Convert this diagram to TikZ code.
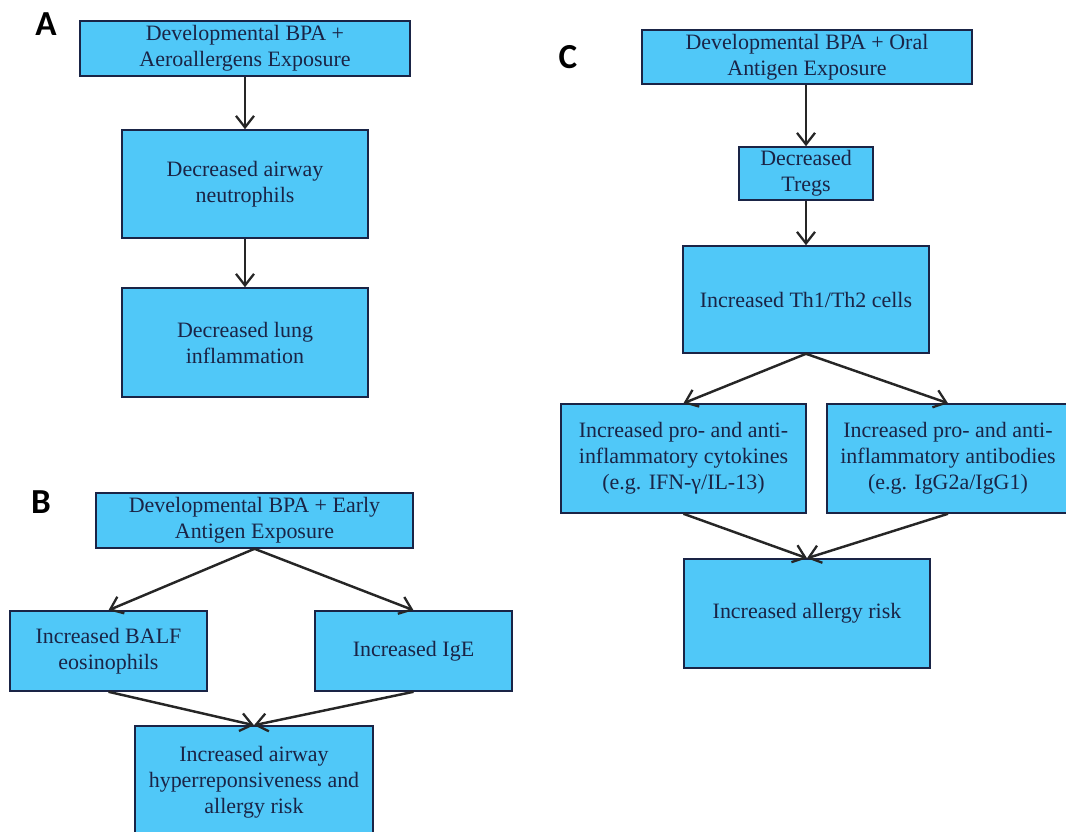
\documentclass[tikz,border=0pt]{standalone}
\usepackage{fontspec}
\setmainfont{Liberation Serif}
\newfontfamily\labelfont{Carlito}
\usetikzlibrary{arrows.meta}
\definecolor{boxblue}{RGB}{80,200,248}
\definecolor{navy1}{RGB}{26,36,70}

\begin{document}
\begin{tikzpicture}[x=0.02cm, y=-0.02cm,
  flowbox/.style={draw=navy1, fill=boxblue, line width=0.9pt, align=center, text=navy1, inner sep=2pt, font=\fontsize{12.5}{14.8}\selectfont},
  panel/.style={font=\labelfont\bfseries\fontsize{20}{20}\selectfont},
  flow/.style={-{Straight Barb[length=2.3mm,width=3.6mm,line width=1.3pt]}, line width=1.4pt, draw=black!85}]
\useasboundingbox (0,0) rectangle (1066,832);
% panel A
\node[panel] (labA) at (46,24) {A};
\node[flowbox, minimum width=6.6cm, minimum height=1.1cm] (Aexp) at (245,48.5) {Developmental BPA +\\Aeroallergens Exposure};
\node[flowbox, minimum width=4.92cm, minimum height=2.16cm] (Aneut) at (245,184) {Decreased airway\\neutrophils};
\node[flowbox, minimum width=4.92cm, minimum height=2.18cm] (Alung) at (245,342.5) {Decreased lung\\inflammation};
\draw[flow] (Aexp) -- (Aneut);
\draw[flow] (Aneut) -- (Alung);
% panel B
\node[panel] (labB) at (41,502) {B};
\node[flowbox, minimum width=6.34cm, minimum height=1.1cm] (Bexp) at (254.5,520.5) {Developmental BPA + Early\\Antigen Exposure};
\node[flowbox, minimum width=3.94cm, minimum height=1.6cm] (Beos) at (108.5,651) {Increased BALF\\eosinophils};
\node[flowbox, minimum width=3.94cm, minimum height=1.6cm] (BIgE) at (413.5,651) {Increased IgE};
\node[flowbox, minimum width=4.76cm, minimum height=2.24cm] (Bahr) at (254,782) {Increased airway\\hyperreponsiveness and\\allergy risk};
\draw[flow] (Bexp.south) -- (Beos.north);
\draw[flow] (Bexp.south) -- (BIgE.north);
\draw[flow] (Beos.south) -- (Bahr.north);
\draw[flow] (BIgE.south) -- (Bahr.north);
% panel C
\node[panel] (labC) at (568,57) {C};
\node[flowbox, minimum width=6.6cm, minimum height=1.08cm] (Cexp) at (807,57) {Developmental BPA + Oral\\Antigen Exposure};
\node[flowbox, minimum width=2.68cm, minimum height=1.02cm] (Ctreg) at (806,173.5) {Decreased\\Tregs};
\node[flowbox, minimum width=4.92cm, minimum height=2.14cm] (Cth) at (806,299.5) {Increased Th1/Th2 cells};
\node[flowbox, minimum width=4.9cm, minimum height=2.18cm] (Ccyt) at (683.5,458.5) {Increased pro- and anti-\\inflammatory cytokines\\(e.g. IFN-γ/IL-13)};
\node[flowbox, minimum width=4.84cm, minimum height=2.18cm] (Cab) at (948,458.5) {Increased pro- and anti-\\inflammatory antibodies\\(e.g. IgG2a/IgG1)};
\node[flowbox, minimum width=4.92cm, minimum height=2.18cm] (Crisk) at (807,613.5) {Increased allergy risk};
\draw[flow] (Cexp.south -| Ctreg) -- (Ctreg);
\draw[flow] (Ctreg) -- (Cth);
\draw[flow] (Cth.south) -- (Ccyt.north);
\draw[flow] (Cth.south) -- (Cab.north);
\draw[flow] (Ccyt.south) -- (Crisk.north);
\draw[flow] (Cab.south) -- (Crisk.north);
\end{tikzpicture}
\end{document}
